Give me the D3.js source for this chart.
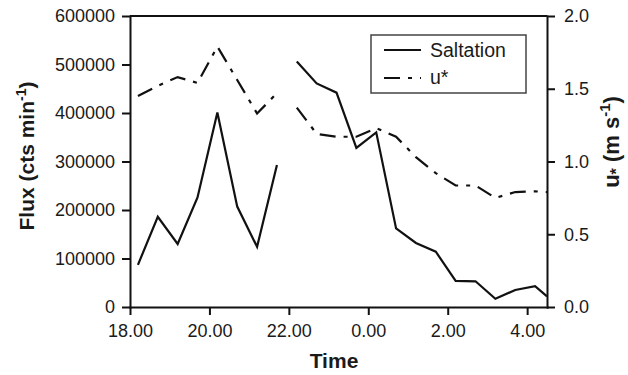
<!DOCTYPE html>
<html>
<head>
<meta charset="utf-8">
<script src="https://cdn.jsdelivr.net/npm/d3@7"></script>
<style>
body{margin:0;background:#fff;}
text{font-family:"Liberation Sans",Arial,sans-serif;fill:#1a1a1a;}
.axis path,.axis line{stroke:#111;stroke-width:2;}
.axis text{font-size:18px;}
.title{font-weight:bold;font-size:21px;}
</style>
</head>
<body>
<div id="chart"></div>
<script>
// hours after 18.00
var hours=[0.2,0.7,1.2,1.7,2.2,2.7,3.2,3.7,4.2,4.7,5.2,5.7,6.2,6.7,7.2,7.7,8.2,8.7,9.2,9.7,10.2,10.5];
var flux=[87000,186000,130000,226000,401000,207000,124000,293000,506000,461000,442000,328000,360000,162000,132000,114000,54000,53000,17000,35000,43000,22000];
var ustar=[1.45,1.52,1.58,1.54,1.79,1.56,1.33,1.47,1.37,1.19,1.17,1.17,1.23,1.17,1.03,0.92,0.835,0.835,0.75,0.79,0.795,0.79];
// record gap between index 7 and 8
var breakAfter=7;
var timeTicks=[0,2,4,6,8,10];
var timeLabels=["18.00","20.00","22.00","0.00","2.00","4.00"];
var fluxTicks=[0,100000,200000,300000,400000,500000,600000];
var ustarTicks=[0,0.5,1,1.5,2];

var svgWidth=628,svgHeight=375;
var margin={top:16,right:81,bottom:68,left:130};
var chartWidth=svgWidth-margin.left-margin.right;
var chartHeight=svgHeight-margin.top-margin.bottom;

var svg=d3.select("#chart").append("svg")
  .attr("width",svgWidth)
  .attr("height",svgHeight);

var chartGroup=svg.append("g")
  .attr("transform",`translate(${margin.left},${margin.top})`);

var x=d3.scaleLinear().domain([0,10.5]).range([0,chartWidth]);
var yFlux=d3.scaleLinear().domain([0,600000]).range([chartHeight,0]);
var yU=d3.scaleLinear().domain([0,2]).range([chartHeight,0]);

// axes
chartGroup.append("g").attr("class","axis")
  .attr("transform",`translate(0,${chartHeight})`)
  .call(d3.axisBottom(x).tickValues(timeTicks).tickFormat((d,i)=>timeLabels[i])
    .tickSize(8).tickPadding(9).tickSizeOuter(0));

chartGroup.append("g").attr("class","axis")
  .call(d3.axisLeft(yFlux).tickValues(fluxTicks).tickFormat(d3.format("d"))
    .tickSize(8).tickPadding(7).tickSizeOuter(0));

chartGroup.append("g").attr("class","axis")
  .attr("transform",`translate(${chartWidth},0)`)
  .call(d3.axisRight(yU).tickValues(ustarTicks).tickFormat(d3.format(".1f"))
    .tickSize(8).tickPadding(9).tickSizeOuter(0));

// top frame line
chartGroup.append("line")
  .attr("x1",0).attr("x2",chartWidth)
  .attr("y1",0).attr("y2",0)
  .attr("stroke","#111").attr("stroke-width",2);

chartGroup.selectAll(".axis .domain").attr("stroke-linecap","square");

// series
var rows=hours.map((h,i)=>({h:h,f:flux[i],u:ustar[i],i:i}));
var runs=[rows.slice(0,breakAfter+1),rows.slice(breakAfter+1)];

var fluxLine=d3.line().x(d=>x(d.h)).y(d=>yFlux(d.f));
var uLine=d3.line().x(d=>x(d.h)).y(d=>yU(d.u));

runs.forEach(function(run){
  chartGroup.append("path")
    .datum(run)
    .attr("d",uLine)
    .attr("fill","none")
    .attr("stroke","#111")
    .attr("stroke-width",2.2)
    .attr("stroke-dasharray","16,8,4,8");
  chartGroup.append("path")
    .datum(run)
    .attr("d",fluxLine)
    .attr("fill","none")
    .attr("stroke","#111")
    .attr("stroke-width",2.2)
    .attr("stroke-linejoin","miter");
});

// axis titles
svg.append("text").attr("class","title")
  .attr("x",334).attr("y",368)
  .attr("text-anchor","middle")
  .text("Time");

var fluxTitle=svg.append("text").attr("class","title")
  .attr("transform","translate(34,156) rotate(-90)")
  .attr("text-anchor","middle");
fluxTitle.append("tspan").text("Flux (cts min");
fluxTitle.append("tspan").attr("dy",-8).attr("font-size","14px").text("-1");
fluxTitle.append("tspan").attr("dy",8).text(")");

var uTitle=svg.append("text").attr("class","title")
  .attr("transform","translate(619,142) rotate(-90)")
  .attr("text-anchor","middle")
  .style("font-size","22px");
uTitle.append("tspan").text("u");
uTitle.append("tspan").attr("dy",3).attr("font-size","16px").text("*");
uTitle.append("tspan").attr("dy",-3).text(" (m s");
uTitle.append("tspan").attr("dy",-9).attr("font-size","15px").text("-1");
uTitle.append("tspan").attr("dy",9).text(")");

// legend
var legend=svg.append("g");
legend.append("rect")
  .attr("x",371).attr("y",35).attr("width",155).attr("height",58)
  .attr("fill","#fff").attr("stroke","#444").attr("stroke-width",1.5);
legend.append("line")
  .attr("x1",384).attr("x2",421).attr("y1",50).attr("y2",50)
  .attr("stroke","#111").attr("stroke-width",2.2);
legend.append("line")
  .attr("x1",384).attr("x2",421).attr("y1",78).attr("y2",78)
  .attr("stroke","#111").attr("stroke-width",2.2)
  .attr("stroke-dasharray","16,8,4,8");
legend.append("text").attr("x",430).attr("y",57).attr("font-size","19.5px").text("Saltation");
legend.append("text").attr("x",430).attr("y",84).attr("font-size","19.5px").text("u*");
</script>
</body>
</html>
